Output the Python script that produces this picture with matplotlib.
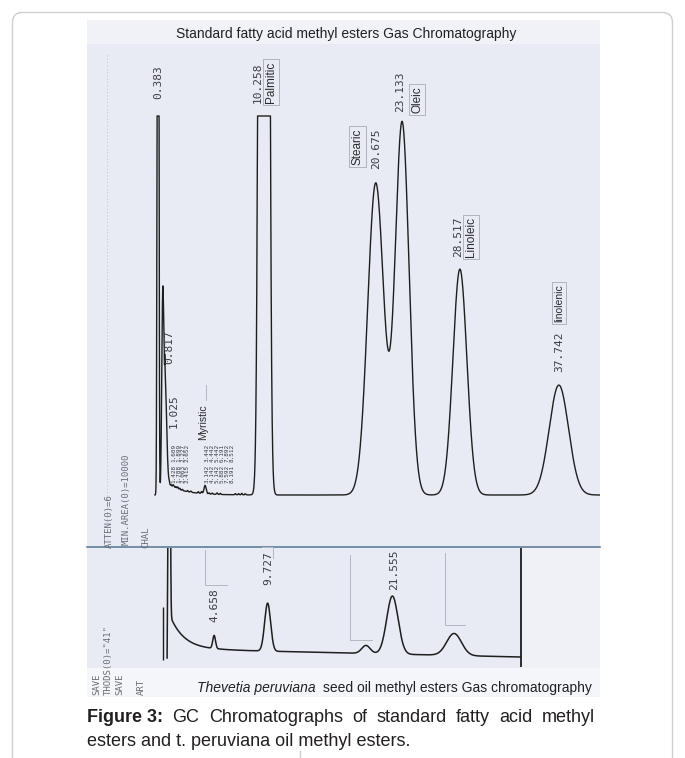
import numpy as np
import matplotlib
matplotlib.use("Agg")
import matplotlib.pyplot as plt
from matplotlib import transforms
from matplotlib.patches import FancyBboxPatch, Rectangle

# ---------------- data ----------------
# Standard fatty acid methyl esters (upper chromatogram)
std_rt = [0.383, 0.817, 1.025, 4.77, 10.258, 20.675, 23.133, 28.517, 37.742]
std_height = [400.0, 43.0, 29.0, 2.2, 1500.0, 82.3, 98.2, 59.6, 29.0]
std_sigma = [0.06, 0.09, 0.15, 0.10, 0.26, 0.75, 0.65, 0.65, 0.90]
std_rt_labels = ["0.383", "0.817", "1.025", "", "10.258", "20.675", "23.133", "28.517", "37.742"]
std_names = ["", "", "", "Myristic", "Palmitic", "Stearic", "Oleic", "Linoleic", "linolenic"]
minor_rt = [1.428, 1.609, 1.788, 1.899, 2.063, 2.227, 2.415, 2.652,
            3.142, 3.442, 4.142, 4.442, 5.142, 5.442, 5.882, 6.191, 7.592, 7.892, 8.191, 8.512]
minor_height = [0.6, 0.5, 0.7, 0.4, 0.5, 0.6, 0.4, 0.3, 0.3, 0.3,
                0.4, 0.5, 0.3, 0.3, 0.4, 0.3, 0.3, 0.3, 0.4, 0.3]
std_tail = [1.0, 3.2, 1.66]      # start time, amplitude, decay constant
std_fullscale = 100.0
std_run_end = 41.7
std_settings = ["ATTEN(0)=6", "MIN.AREA(0)=10000", "CHAL"]

# Thevetia peruviana seed oil methyl esters (lower chromatogram)
tp_rt = [0.40, 4.658, 9.727, 19.05, 21.555, 27.4]
tp_height = [600.0, 13.0, 48.0, 8.0, 58.0, 22.0]
tp_sigma = [0.07, 0.13, 0.28, 0.40, 0.54, 0.70]
tp_rt_labels = ["", "4.658", "9.727", "", "21.555", ""]
tp_tail = [0.45, 35.0, 1.35]
tp_drift_t = [5.0, 33.7]
tp_drift_v = [0.0, -7.0]
tp_start = [0.2, -8.0]
tp_run_end = 33.7
tp_end_line = [-17.0, 102.0]
tp_inject = [-0.2, -10.0, 43.0]
tp_settings = ["SAVE", 'THODS(0)="41"', "SAVE", "ART"]

top_title = "Standard fatty acid methyl esters Gas Chromatography"
bottom_title_it = "Thevetia peruviana"
bottom_title_rest = "seed oil methyl esters Gas chromatography"
caption_bold = "Figure 3:"
caption_line1 = ["GC", "Chromatographs", "of", "standard", "fatty", "acid", "methyl"]
caption_line2 = "esters and t. peruviana oil methyl esters."

# ---------------- layout ----------------
W, H, DPI = 685, 758, 100
U_X0, U_K, U_BASE, U_S = 153.9, 10.73, 495.0, 3.79
L_X0, L_K, L_BASE, L_S = 165.0, 10.55, 650.0, 1.0
SCAN_L, SCAN_R, SCAN_T, SEP_Y, SCAN_B = 87, 600, 20, 548, 697
INK = "#1e1e1e"
PRINT = "#3c3c42"
FAINT = "#b4b8c2"

fig = plt.figure(figsize=(W / DPI, H / DPI), dpi=DPI, facecolor="white")


def rect_px(x0, y0, x1, y1):
    return [x0 / W, 1 - y1 / H, (x1 - x0) / W, (y1 - y0) / H]


bg = fig.add_axes([0, 0, 1, 1], zorder=0)
bg.set_xlim(0, W)
bg.set_ylim(H, 0)
bg.axis("off")
bg.add_patch(FancyBboxPatch((12.5, 12.5), 660, 790, boxstyle="round,pad=0,rounding_size=10",
                            ec="#cfcfcf", fc="white", lw=1.0))
bg.add_patch(Rectangle((SCAN_L, SCAN_T), SCAN_R - SCAN_L, SCAN_B - SCAN_T, fc="#e8ebf3", ec="none"))
bg.add_patch(Rectangle((SCAN_L, SCAN_T), SCAN_R - SCAN_L, 24, fc="#f0f2f7", ec="none"))
bg.add_patch(Rectangle((521, SEP_Y), SCAN_R - 521, 120, fc="#eff1f6", ec="none"))
bg.add_patch(Rectangle((SCAN_L, 668), SCAN_R - SCAN_L, SCAN_B - 668, fc="#f5f6f9", ec="none"))
bg.plot([SCAN_L, SCAN_R], [SEP_Y - 1, SEP_Y - 1], color="#5f7f98", lw=1.2)
bg.plot([107, 107], [55, 540], color="#b0b4be", lw=0.6, ls=(0, (1, 3)))

# upper chromatogram
ax1 = fig.add_axes(rect_px(SCAN_L, SCAN_T, SCAN_R, SEP_Y), zorder=1)
ax1.patch.set_alpha(0)
ax1.axis("off")
ax1.set_xlim((SCAN_L - U_X0) / U_K, (SCAN_R - U_X0) / U_K)
ax1.set_ylim((U_BASE - SEP_Y) / U_S, (U_BASE - SCAN_T) / U_S)

# lower chromatogram
ax2 = fig.add_axes(rect_px(SCAN_L, SEP_Y, SCAN_R, SCAN_B), zorder=1)
ax2.patch.set_alpha(0)
ax2.axis("off")
ax2.set_xlim((SCAN_L - L_X0) / L_K, (SCAN_R - L_X0) / L_K)
ax2.set_ylim((L_BASE - SCAN_B) / L_S, (L_BASE - SEP_Y) / L_S)

pix = fig.add_axes([0, 0, 1, 1], zorder=3)
pix.patch.set_alpha(0)
pix.set_xlim(0, W)
pix.set_ylim(H, 0)
pix.axis("off")


def peaks(t, rts, hs, sig):
    y = np.zeros_like(t)
    for r, h, s in zip(rts, hs, sig):
        y += h * np.exp(-0.5 * ((t - r) / s) ** 2)
    return y


# upper trace
t1 = np.arange(0.1, std_run_end, 0.004)
y1 = peaks(t1, std_rt, std_height, std_sigma)
y1 += peaks(t1, minor_rt, minor_height, [0.05] * len(minor_rt))
y1 += np.where(t1 >= std_tail[0], std_tail[1] * np.exp(-(t1 - std_tail[0]) / std_tail[2]), 0.0)
ax1.plot(t1, np.minimum(y1, std_fullscale), color=INK, lw=1.0, solid_joinstyle="round")

# lower trace
t2 = np.arange(0.22, tp_run_end, 0.004)
y2 = peaks(t2, tp_rt, tp_height, tp_sigma)
y2 += np.where(t2 >= tp_tail[0], tp_tail[1] * np.exp(-(t2 - tp_tail[0]) / tp_tail[2]), 0.0)
y2 += np.interp(t2, tp_drift_t, tp_drift_v)
t2 = np.concatenate([[tp_start[0]], t2])
y2 = np.concatenate([[tp_start[1]], y2])
ax2.plot(t2, y2, color=INK, lw=1.1)
ax2.vlines(tp_run_end, tp_end_line[0], tp_end_line[1], color=INK, lw=1.3)
ax2.vlines(tp_inject[0], tp_inject[1], tp_inject[2], color=INK, lw=1.0)


def vtext(ax, t, ybot, s, dx=0.0, size=8, family="DejaVu Sans Mono", color=PRINT, box=False, **kw):
    tr = transforms.blended_transform_factory(ax.transData, pix.transData)
    tr = tr + transforms.ScaledTranslation(dx / DPI, 0, fig.dpi_scale_trans)
    bbox = dict(boxstyle="square,pad=0.2", fc="none", ec="#a7abb4", lw=0.6) if box else None
    pix.text(t, ybot, s, transform=tr, rotation=90, ha="center", va="bottom", fontsize=size,
             family=family, color=color, bbox=bbox, zorder=5, **kw)


SANS = ["Liberation Sans", "DejaVu Sans"]

# upper retention time labels: (dx px, bottom y px)
rt_pos = {"0.383": (0, 99), "0.817": (6.5, 364), "1.025": (9, 428), "10.258": (-6, 103),
          "20.675": (0, 169), "23.133": (-2, 112), "28.517": (-2, 257), "37.742": (0, 372)}
for rt, lab in zip(std_rt, std_rt_labels):
    if lab:
        dx, yb = rt_pos[lab]
        vtext(ax1, rt, yb, lab, dx=dx, size=8)

name_pos = {"Myristic": (-2, 440, False, 7.5), "Palmitic": (7, 103, True, 8.5),
            "Stearic": (-18, 165, True, 8.5), "Oleic": (15, 113, True, 8.5),
            "Linoleic": (11, 257, True, 8.5), "linolenic": (0, 322, True, 7.5)}
for rt, nm in zip(std_rt, std_names):
    if nm:
        dx, yb, bx, sz = name_pos[nm]
        vtext(ax1, rt, yb, nm, dx=dx, size=sz, family=SANS, color="#2a2a2e", box=bx)

# dense minor labels (two rows per column)
cols_x = [174, 178.5, 183, 187.5, 207, 212, 217, 222, 227, 232]
for i, rt in enumerate(minor_rt):
    cx = cols_x[i // 2]
    yb = 483 if i % 2 == 0 else 462
    pix.text(cx, yb, f"{rt:.3f}", rotation=90, ha="center", va="bottom", fontsize=4.3,
             family="DejaVu Sans Mono", color=PRINT)

# lower retention time labels
tp_pos = {"4.658": (0.5, 622), "9.727": (0.5, 585), "21.555": (1.5, 590)}
for rt, lab in zip(tp_rt, tp_rt_labels):
    if lab:
        dx, yb = tp_pos[lab]
        vtext(ax2, rt, yb, lab, dx=dx, size=8)

# integrator setting texts
for s, x, yb in zip(std_settings, [109, 126, 146], [548, 545, 548]):
    pix.text(x, yb, s, rotation=90, ha="center", va="bottom", fontsize=6.5,
             family="DejaVu Sans Mono", color="#6a6e78")
for s, x in zip(tp_settings, [97, 108, 120, 141]):
    pix.text(x, 695, s, rotation=90, ha="center", va="bottom", fontsize=6.5,
             family="DejaVu Sans Mono", color="#6a6e78")

# faint integrator annotation boxes
for xs, ys in [([205, 205, 227], [550, 585, 585]), ([262, 273, 273], [547, 547, 558]),
               ([350, 350, 372], [555, 640, 640]), ([445, 445, 465], [553, 625, 625]),
               ([206, 206], [385, 400])]:
    pix.plot(xs, ys, color=FAINT, lw=0.7)

# titles
pix.text(346, 34, top_title, ha="center", va="center", fontsize=10, family=SANS, color="#202024")
t_it = pix.text(197, 688, bottom_title_it, ha="left", va="center", fontsize=10, family=SANS,
                style="italic", color="#202024")
fig.canvas.draw()
r = fig.canvas.get_renderer()
bb = t_it.get_window_extent(r)
pix.text(197 + bb.width + 7, 688, bottom_title_rest, ha="left", va="center", fontsize=10,
         family=SANS, color="#202024")

# caption (justified first line)
CAP_SIZE = 13
CAP_COL = "#231f20"
cb = pix.text(87, 718, caption_bold, ha="left", va="center", fontsize=CAP_SIZE, family=SANS,
              weight="bold", color=CAP_COL)
words = [pix.text(0, 718, w, ha="left", va="center", fontsize=CAP_SIZE, family=SANS, color=CAP_COL)
         for w in caption_line1]
fig.canvas.draw()
r = fig.canvas.get_renderer()
widths = [cb.get_window_extent(r).width] + [w.get_window_extent(r).width for w in words]
gap = (595 - 87 - sum(widths)) / len(words)
x = 87 + widths[0] + gap
for w, wd in zip(words, widths[1:]):
    w.set_x(x)
    x += wd + gap
pix.text(87, 741, caption_line2, ha="left", va="center", fontsize=CAP_SIZE, family=SANS, color=CAP_COL)
pix.plot([300, 300], [751, 758], color="#cfcfcf", lw=1)

fig.savefig("out.png", dpi=DPI, facecolor="white")
